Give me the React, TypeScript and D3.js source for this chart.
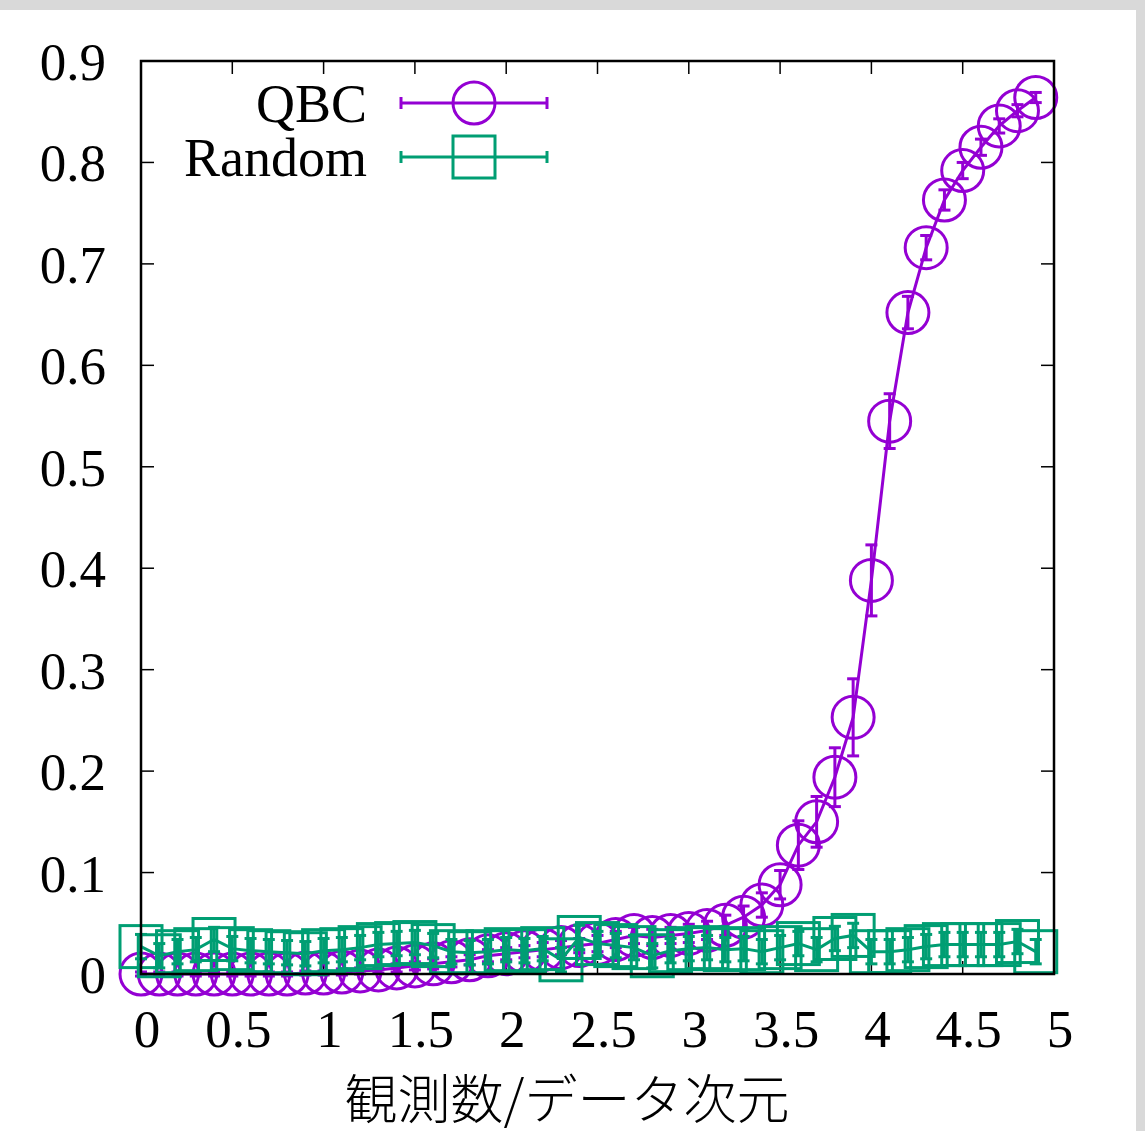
import * as d3 from 'd3';

const WIDTH = 1145, HEIGHT = 1131;
const M = { left: 141, right: 1054, top: 61, bottom: 974 };

const PURPLE = '#9400d3';
const GREEN = '#009e73';

// x values shared by both series (observations / data dimension)
const xs = [
    0.0, 0.1, 0.2, 0.3, 0.4, 0.5, 0.6, 0.7, 0.8, 0.9,
    1.0, 1.1, 1.2, 1.3, 1.4, 1.5, 1.6, 1.7, 1.8, 1.9,
    2.0, 2.1, 2.2, 2.3, 2.4, 2.5, 2.6, 2.7, 2.8, 2.9,
    3.0, 3.1, 3.2, 3.3, 3.4, 3.5, 3.6, 3.7, 3.8, 3.9,
    4.0, 4.1, 4.2, 4.3, 4.4, 4.5, 4.6, 4.7, 4.8, 4.9,
];

const qbcValues = [
    0.000, 0.000, 0.000, 0.000, 0.000, 0.000, 0.000, 0.000, 0.000, 0.001,
    0.001, 0.002, 0.003, 0.004, 0.006, 0.008, 0.010, 0.012, 0.014, 0.018,
    0.020, 0.022, 0.024, 0.026, 0.028, 0.030, 0.034, 0.038, 0.036, 0.038,
    0.040, 0.043, 0.048, 0.056, 0.068, 0.088, 0.127, 0.150, 0.194, 0.253,
    0.388, 0.545, 0.652, 0.716, 0.763, 0.792, 0.815, 0.836, 0.851, 0.864,
];

const qbcErrors = [
    0.002, 0.002, 0.002, 0.002, 0.002, 0.002, 0.002, 0.002, 0.002, 0.002,
    0.002, 0.003, 0.003, 0.003, 0.004, 0.004, 0.005, 0.005, 0.005, 0.006,
    0.006, 0.006, 0.007, 0.007, 0.007, 0.008, 0.008, 0.008, 0.008, 0.008,
    0.009, 0.009, 0.010, 0.011, 0.012, 0.014, 0.024, 0.025, 0.029, 0.038,
    0.035, 0.027, 0.016, 0.012, 0.010, 0.008, 0.008, 0.007, 0.006, 0.005,
];

const randomValues = [
    0.027, 0.018, 0.022, 0.024, 0.034, 0.025, 0.023, 0.022, 0.021, 0.020,
    0.023, 0.024, 0.026, 0.029, 0.030, 0.031, 0.028, 0.022, 0.021, 0.022,
    0.024, 0.023, 0.025, 0.014, 0.036, 0.030, 0.028, 0.026, 0.018, 0.023,
    0.025, 0.026, 0.024, 0.025, 0.022, 0.026, 0.030, 0.024, 0.035, 0.038,
    0.022, 0.022, 0.024, 0.027, 0.029, 0.029, 0.029, 0.029, 0.032, 0.022,
];

const randomErrors = [
    0.012, 0.012, 0.012, 0.012, 0.012, 0.012, 0.012, 0.012, 0.012, 0.012,
    0.012, 0.012, 0.012, 0.012, 0.012, 0.012, 0.012, 0.012, 0.012, 0.012,
    0.012, 0.012, 0.012, 0.012, 0.012, 0.012, 0.012, 0.012, 0.012, 0.012,
    0.012, 0.012, 0.012, 0.012, 0.012, 0.012, 0.012, 0.012, 0.012, 0.012,
    0.012, 0.012, 0.012, 0.012, 0.012, 0.012, 0.012, 0.012, 0.012, 0.012,
];

const xTicks = [0, 0.5, 1, 1.5, 2, 2.5, 3, 3.5, 4, 4.5, 5];
const yTicks = [0, 0.1, 0.2, 0.3, 0.4, 0.5, 0.6, 0.7, 0.8, 0.9];

const seriesNames = ['QBC', 'Random'];
const xLabel = '観測数/データ次元';

const x = d3.scaleLinear().domain([0, 5]).range([M.left, M.right]);
const y = d3.scaleLinear().domain([0, 0.9]).range([M.bottom, M.top]);

const line = d3.line<number>()
    .x((_, i) => x(xs[i]))
    .y((d) => y(d));

const R = 21;      // marker radius / half side
const CAP = 6;     // error bar half cap width
const TICK = 13;
const SW = 3;
const SERIF = '"Liberation Serif", "DejaVu Serif", serif';

function ErrorBars({ values, errors, color }: { values: number[]; errors: number[]; color: string }) {
    return (
        <g stroke={color} strokeWidth={SW} fill="none">
            {values.map((v, i) => {
                const cx = x(xs[i]);
                const y0 = y(v - errors[i]);
                const y1 = y(v + errors[i]);
                return (
                    <g key={i}>
                        <line x1={cx} x2={cx} y1={y0} y2={y1} />
                        <line x1={cx - CAP} x2={cx + CAP} y1={y0} y2={y0} />
                        <line x1={cx - CAP} x2={cx + CAP} y1={y1} y2={y1} />
                    </g>
                );
            })}
        </g>
    );
}

const App = () => {
    const legendY = [103, 157];
    return (
        <svg width={WIDTH} height={HEIGHT} style={{ position: 'absolute', left: 0, top: 0, background: '#fff' }}>
            {/* grey frame of the screenshot */}
            <rect x={0} y={0} width={WIDTH} height={10} fill="#d9d9d9" />
            <rect x={1136} y={0} width={9} height={HEIGHT} fill="#d9d9d9" />

            {/* ticks, mirrored on all sides */}
            <g stroke="#000" strokeWidth={1.5}>
                {xTicks.map((t) => (
                    <g key={'x' + t}>
                        <line x1={x(t)} x2={x(t)} y1={M.bottom} y2={M.bottom - TICK} />
                        <line x1={x(t)} x2={x(t)} y1={M.top} y2={M.top + TICK} />
                    </g>
                ))}
                {yTicks.map((t) => (
                    <g key={'y' + t}>
                        <line x1={M.left} x2={M.left + TICK} y1={y(t)} y2={y(t)} />
                        <line x1={M.right} x2={M.right - TICK} y1={y(t)} y2={y(t)} />
                    </g>
                ))}
            </g>

            {/* tick labels */}
            <g fontFamily={SERIF} fontSize={53} fill="#000">
                {xTicks.map((t) => (
                    <text key={'xl' + t} x={x(t) + 6} y={M.bottom + 73} textAnchor="middle">{t}</text>
                ))}
                {yTicks.map((t) => (
                    <text key={'yl' + t} x={106} y={y(t) + 19} textAnchor="end">{t}</text>
                ))}
            </g>

            {/* QBC */}
            <path d={line(qbcValues) || ''} fill="none" stroke={PURPLE} strokeWidth={SW} />
            <ErrorBars values={qbcValues} errors={qbcErrors} color={PURPLE} />
            <g fill="none" stroke={PURPLE} strokeWidth={SW}>
                {qbcValues.map((v, i) => (
                    <circle key={i} cx={x(xs[i])} cy={y(v)} r={R} />
                ))}
            </g>

            {/* Random */}
            <path d={line(randomValues) || ''} fill="none" stroke={GREEN} strokeWidth={SW} />
            <ErrorBars values={randomValues} errors={randomErrors} color={GREEN} />
            <g fill="none" stroke={GREEN} strokeWidth={SW}>
                {randomValues.map((v, i) => (
                    <rect key={i} x={x(xs[i]) - R} y={y(v) - R} width={2 * R} height={2 * R} />
                ))}
            </g>

            {/* plot border */}
            <rect x={M.left} y={M.top} width={M.right - M.left} height={M.bottom - M.top}
                fill="none" stroke="#000" strokeWidth={2.5} />

            {/* legend */}
            {seriesNames.map((name, i) => {
                const ly = legendY[i];
                const color = i === 0 ? PURPLE : GREEN;
                return (
                    <g key={name}>
                        <text x={367} y={ly + 19} textAnchor="end" fontFamily={SERIF} fontSize={54}>{name}</text>
                        <g stroke={color} strokeWidth={SW} fill="none">
                            <line x1={401} x2={547} y1={ly} y2={ly} />
                            <line x1={401} x2={401} y1={ly - CAP} y2={ly + CAP} />
                            <line x1={547} x2={547} y1={ly - CAP} y2={ly + CAP} />
                        </g>
                        {i === 0
                            ? <circle cx={474} cy={ly} r={R} fill="none" stroke={color} strokeWidth={SW} />
                            : <rect x={474 - R} y={ly - R} width={2 * R} height={2 * R} fill="none" stroke={color} strokeWidth={SW} />}
                    </g>
                );
            })}

            {/* x axis title */}
            <text x={567} y={1119} textAnchor="middle" fontFamily='"Noto Sans CJK JP", sans-serif'
                fontWeight={300} fontSize={53} fill="#000">{xLabel}</text>
        </svg>
    );
};

export default App;
